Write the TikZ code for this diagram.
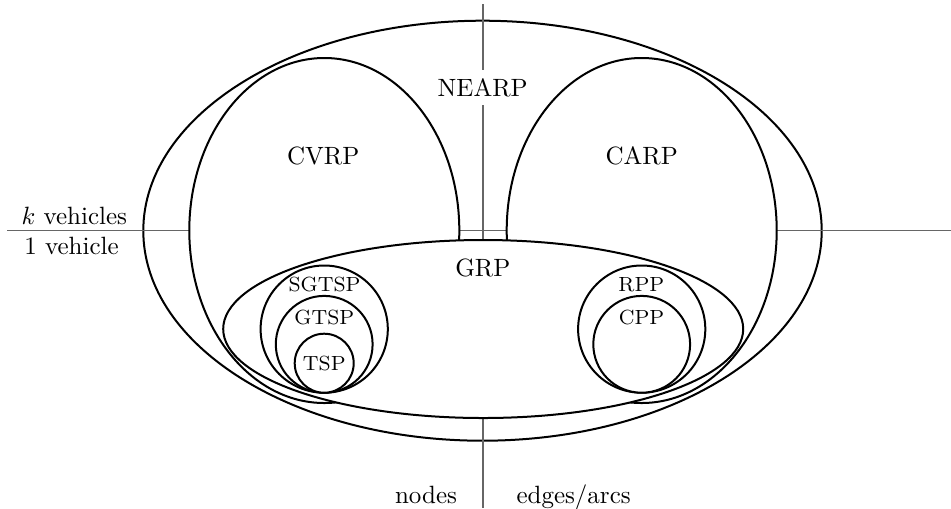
\documentclass[tikz,border=0pt]{standalone}
\begin{document}
\begin{tikzpicture}[x=0.4pt,y=-0.4pt,
  outerset/.style={draw=black,line width=0.8pt},
  region/.style={draw=black,fill=white,line width=0.8pt},
  axis/.style={draw=black!60,line width=0.6pt},
  biglbl/.style={inner sep=0pt,anchor=base,font=\fontsize{10}{12}\selectfont},
  smalllbl/.style={inner sep=0pt,anchor=base,font=\fontsize{8.2}{10}\selectfont}]
\useasboundingbox (0,0) rectangle (951,508);
% outer set NEARP
\draw[outerset] (482.5,230.7) ellipse [x radius=135.68pt, y radius=84pt];
% axes
\coordinate (hl) at (7,230.7);
\coordinate (hr) at (951,230.7);
\coordinate (vt) at (483,4);
\coordinate (vb) at (483,508);
\draw[axis] (hl) -- (hr);
\draw[axis] (vt) -- (vb);
% CVRP and CARP
\draw[region] (324.3,230.5) ellipse [x radius=54pt, y radius=69pt];
\draw[region] (641.7,230.5) ellipse [x radius=54pt, y radius=69pt];
% GRP
\draw[region] (483.2,329) ellipse [x radius=104pt, y radius=35.6pt];
% node routing circles
\draw[region] (324.2,329.1) circle [radius=25.44pt];
\draw[region] (324.2,344.3) circle [radius=19.36pt];
\draw[region] (324.2,363.2) circle [radius=11.8pt];
% arc routing circles
\draw[region] (641.7,329.1) circle [radius=25.44pt];
\draw[region] (641.7,344.3) circle [radius=19.36pt];
% labels
\node[biglbl,fill=white,inner sep=3.33pt] (nearp) at (482.7,96) {NEARP};
\node[biglbl] (cvrp) at (323.3,164.3) {CVRP};
\node[biglbl] (carp) at (641.7,164.3) {CARP};
\node[biglbl] (grp) at (482.8,276.7) {GRP};
\node[smalllbl] (sgtsp) at (324.5,291.7) {SGTSP};
\node[smalllbl] (gtsp) at (324.3,324.3) {GTSP};
\node[smalllbl] (tsp) at (324.3,370) {TSP};
\node[smalllbl] (rpp) at (641.3,291.3) {RPP};
\node[smalllbl] (cpp) at (641.5,324.3) {CPP};
\node[biglbl] (kveh) at (74.3,224.3) {$k$ vehicles};
\node[biglbl] (oneveh) at (71.5,254) {1 vehicle};
\node[biglbl] (nodes) at (426,503) {nodes};
\node[biglbl,anchor=base west] (edges) at (516,503) {edges/arcs};
\end{tikzpicture}
\end{document}
